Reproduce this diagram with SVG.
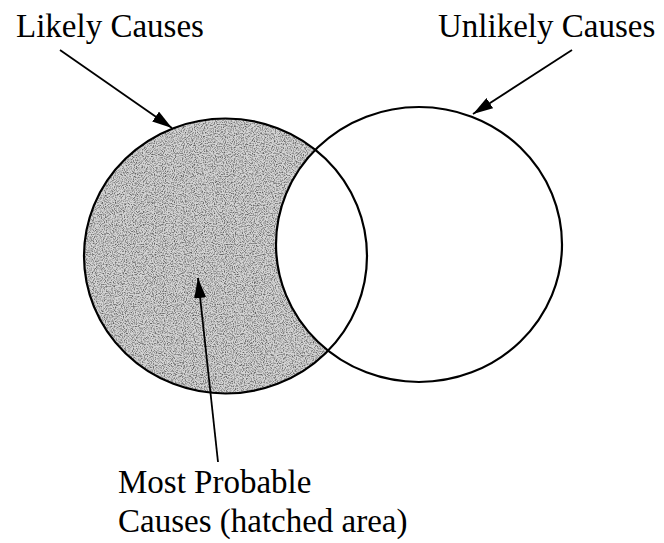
<svg xmlns="http://www.w3.org/2000/svg" width="664" height="543" viewBox="0 0 664 543">
<style>
.lbl{font-family:'Liberation Serif','Times New Roman',serif;font-size:33px;fill:#000}
.ring{fill:none;stroke:#000;stroke-width:2.2}
.conn{stroke:#000;stroke-width:1.8;fill:none}
</style>
<defs>
<marker id="ah" viewBox="0 0 20 12" refX="20" refY="6" markerWidth="20" markerHeight="12" markerUnits="userSpaceOnUse" orient="auto">
<path d="M0,0 L20,6 L0,12 Z" fill="#000"/>
</marker>
<filter id="noise" x="0" y="0" width="1" height="1">
<feTurbulence type="fractalNoise" baseFrequency="0.9" numOctaves="2" seed="3" result="t"/>
<feColorMatrix in="t" type="matrix" values="0 0 0 0 0  0 0 0 0 0  0 0 0 0 0  0 0 0 -2.6 1.5"/>
</filter>
<mask id="crescent">
<rect width="664" height="543" fill="#000"/>
<ellipse cx="225.5" cy="256" rx="141.5" ry="137.5" fill="#fff"/>
<ellipse cx="419" cy="244.5" rx="143" ry="137.5" fill="#000"/>
</mask>
</defs>
<g id="hatch" mask="url(#crescent)">
<rect x="80" y="110" width="300" height="290" fill="#d4d4d4"/>
<rect x="80" y="110" width="300" height="290" filter="url(#noise)" opacity="0.55"/>
</g>
<g id="likely">
<ellipse class="ring" cx="225.5" cy="256" rx="141.5" ry="137.5"/>
</g>
<g id="unlikely">
<ellipse class="ring" cx="419" cy="244.5" rx="143" ry="137.5"/>
</g>
<g id="connectors">
<line class="conn" x1="60" y1="50" x2="172" y2="128" marker-end="url(#ah)"/>
<line class="conn" x1="572" y1="50" x2="473" y2="114" marker-end="url(#ah)"/>
<line class="conn" x1="218" y1="462" x2="198" y2="278" marker-end="url(#ah)"/>
</g>
<g id="labels">
<text class="lbl" x="16" y="37">Likely Causes</text>
<text class="lbl" x="438" y="37">Unlikely Causes</text>
<text class="lbl" x="118" y="493">Most Probable</text>
<text class="lbl" x="118" y="532">Causes (hatched area)</text>
</g>
</svg>
